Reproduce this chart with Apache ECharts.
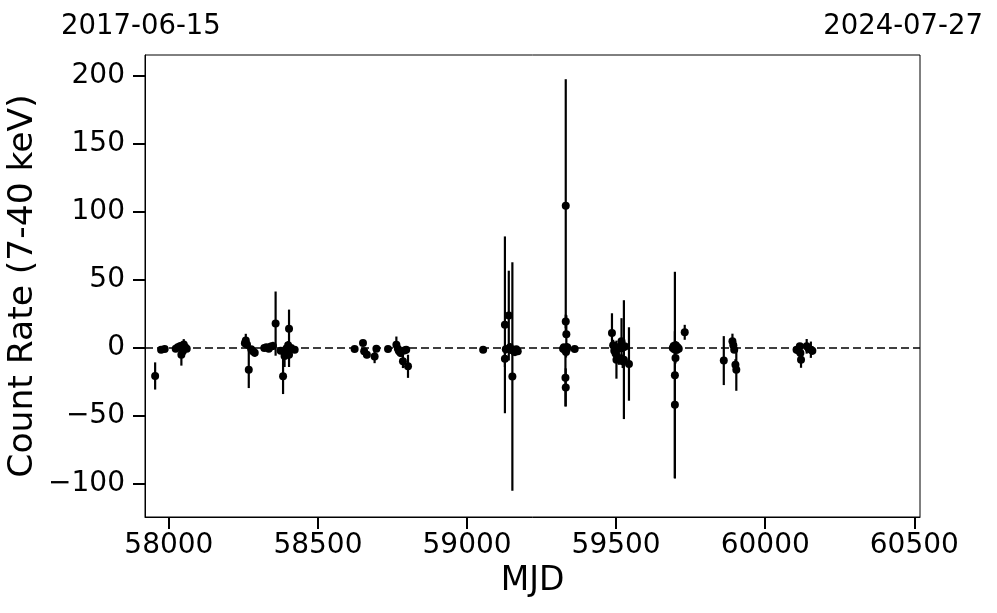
<!DOCTYPE html>
<html>
<head>
<meta charset="utf-8">
<script src="https://cdn.jsdelivr.net/npm/echarts@6/dist/echarts.min.js"></script>
<style>
html,body{margin:0;padding:0;background:#fff;}
#chart{width:997px;height:613px;}
</style>
</head>
<body>
<div id="chart"></div>
<script>
// Observation MJD, count rate (7-40 keV) and 1-sigma error
const mjd = [
  57954, 57974, 57986, 58023, 58030, 58037, 58042, 58047, 58050, 58055, 58060,
  58255, 58258, 58262, 58268, 58276, 58282, 58288,
  58320, 58327, 58335, 58342, 58349, 58358, 58375, 58383, 58388, 58393, 58397, 58403, 58403, 58400, 58410, 58422,
  58623, 58651, 58655, 58664, 58690, 58696, 58735,
  58763, 58768, 58772, 58777, 58785, 58790, 58796, 58802,
  59054,
  59127, 59127, 59130, 59140, 59144, 59148, 59152, 59156, 59160, 59165, 59170,
  59322, 59325, 59328, 59331, 59331, 59333, 59330, 59331, 59332, 59335, 59336, 59361,
  59486, 59490, 59494, 59498, 59501, 59505, 59509, 59513, 59518, 59522, 59526, 59530, 59520, 59543,
  59690, 59693, 59695, 59697, 59697, 59699, 59700, 59703, 59706, 59710, 59730,
  59861, 59890, 59893, 59896, 59900, 59903,
  60105, 60112, 60116, 60118, 60120, 60139, 60146, 60153, 60158
];
const rate = [
  -20.6, -1.3, -0.8, -0.5, 0.5, 1.2, -5, -2.5, 2.5, 0.5, -0.5,
  3.5, 5.4, 2.5, -16, -1, -2.5, -3.5,
  0, 0.5, -0.5, 1, 1.5, 17.9, -2, -20.9, -6, -1, -0.5, 14.2, -5, 2, 0, -1.3,
  -0.7, 3.7, -2.5, -5, -6.2, -0.5, -0.7,
  2.4, -0.5, -2.5, -3.7, -9.8, -1.8, -1.3, -13.5,
  -1.3,
  17, -8, -1, 23.8, 0.5, -1.5, -21, -2, -3, -1, -2.5,
  -0.5, 0.5, -1.5, 104.6, 19.5, 10, -22, -29, -3, -1, 0.5, -0.7,
  11, 2, -2, -4, -8.6, 0, -7.4, 1, 4.9, -9.8, -8.6, 1, 0, -11.8,
  0, 1.5, -1, -20, -41.7, -7.4, 2, -1.5, 0.5, -0.5, 11.5,
  -9.3, 4.9, 2, -1.3, -12.3, -16,
  -1.3, -2, 1.2, -3.7, -8.6, 1.2, -0.5, -1.3, -2
];
const rateErr = [
  10, 1.5, 1.5, 1.5, 2, 3, 8, 3, 4, 2, 2,
  3, 5, 3, 13.5, 2, 2, 3,
  1.5, 2, 2, 2, 3, 23.6, 2, 13, 8, 4, 3, 14, 9, 3, 2, 1.5,
  1.5, 2, 2, 2.5, 5, 2, 1.5,
  6, 3, 2, 3, 5, 2, 2, 8.5,
  1.5,
  65, 6, 3, 33, 3, 2, 84, 3, 3, 2, 2,
  2, 2, 3, 93, 5, 14, 21, 14, 4, 2, 3, 1.5,
  14.5, 4, 5, 4, 14, 3, 5, 4, 17, 5, 43.7, 3, 3, 27,
  2, 3, 3, 76, 54, 4, 3, 2, 2, 2, 5.5,
  18, 5.6, 4, 2, 4, 15.5,
  2, 3, 2, 3, 6, 5.4, 2, 6, 3
];
const xTicks = [58000, 58500, 59000, 59500, 60000, 60500];
const yTicks = [-100, -50, 0, 50, 100, 150, 200];
const startDate = '2017-06-15';
const endDate = '2024-07-27';

const points = mjd.map((m, i) => [m, rate[i]]);
const bars = mjd.map((m, i) => [m, rate[i] - rateErr[i], rate[i] + rateErr[i]]);

const FONT = 'DejaVu Sans';
const chart = echarts.init(document.getElementById('chart'), null, {renderer: 'canvas'});
chart.setOption({
  animation: false,
  backgroundColor: '#ffffff',
  title: [
    {text: startDate, left: 56, top: 8,
     textStyle: {fontFamily: FONT, fontSize: 27.5, fontWeight: 'normal', color: '#000'}},
    {text: endDate, right: 9, top: 8,
     textStyle: {fontFamily: FONT, fontSize: 27.5, fontWeight: 'normal', color: '#000'}}
  ],
  grid: {left: 145, right: 77, top: 55, bottom: 96, show: true,
         containLabel: false, outerBoundsMode: 'none',
         borderColor: '#000', borderWidth: 1, backgroundColor: 'transparent'},
  xAxis: {
    type: 'value', min: 57920, max: 60519,
    name: 'MJD', nameLocation: 'middle', nameGap: 48, nameMoveOverlap: false,
    nameTextStyle: {fontFamily: FONT, fontSize: 33, color: '#000'},
    axisLine: {show: true, onZero: false, lineStyle: {color: '#000', width: 1}},
    axisTick: {show: true, length: 12, lineStyle: {color: '#000', width: 2}, customValues: xTicks},
    axisLabel: {fontFamily: FONT, fontSize: 28, color: '#000', margin: 15, customValues: xTicks,
                formatter: v => String(v)},
    splitLine: {show: false}
  },
  yAxis: {
    type: 'value', min: -124.3, max: 215.4,
    name: 'Count Rate (7-40 keV)', nameLocation: 'middle', nameGap: 104, nameMoveOverlap: false,
    nameTextStyle: {fontFamily: FONT, fontSize: 34.5, color: '#000'},
    axisLine: {show: true, onZero: false, lineStyle: {color: '#000', width: 1}},
    axisTick: {show: true, length: 12, lineStyle: {color: '#000', width: 2}, customValues: yTicks},
    axisLabel: {fontFamily: FONT, fontSize: 28, color: '#000', margin: 20, customValues: yTicks,
                formatter: v => (v < 0 ? '\u2212' + Math.abs(v) : String(v))},
    splitLine: {show: false}
  },
  series: [
    {
      type: 'custom',
      data: bars,
      clip: true,
      z: 2,
      renderItem: function (params, api) {
        const lo = api.coord([api.value(0), api.value(1)]);
        const hi = api.coord([api.value(0), api.value(2)]);
        return {
          type: 'line',
          shape: {x1: lo[0], y1: lo[1], x2: hi[0], y2: hi[1]},
          style: {stroke: '#000', lineWidth: 2.2}
        };
      },
      markLine: {
        silent: true, symbol: 'none', label: {show: false},
        lineStyle: {color: '#000', width: 1.5, type: [8, 4]},
        data: [{yAxis: 0}]
      }
    },
    {
      type: 'scatter',
      data: points,
      symbol: 'circle',
      symbolSize: 8,
      itemStyle: {color: '#000', opacity: 1},
      z: 3
    }
  ]
});
</script>
</body>
</html>
